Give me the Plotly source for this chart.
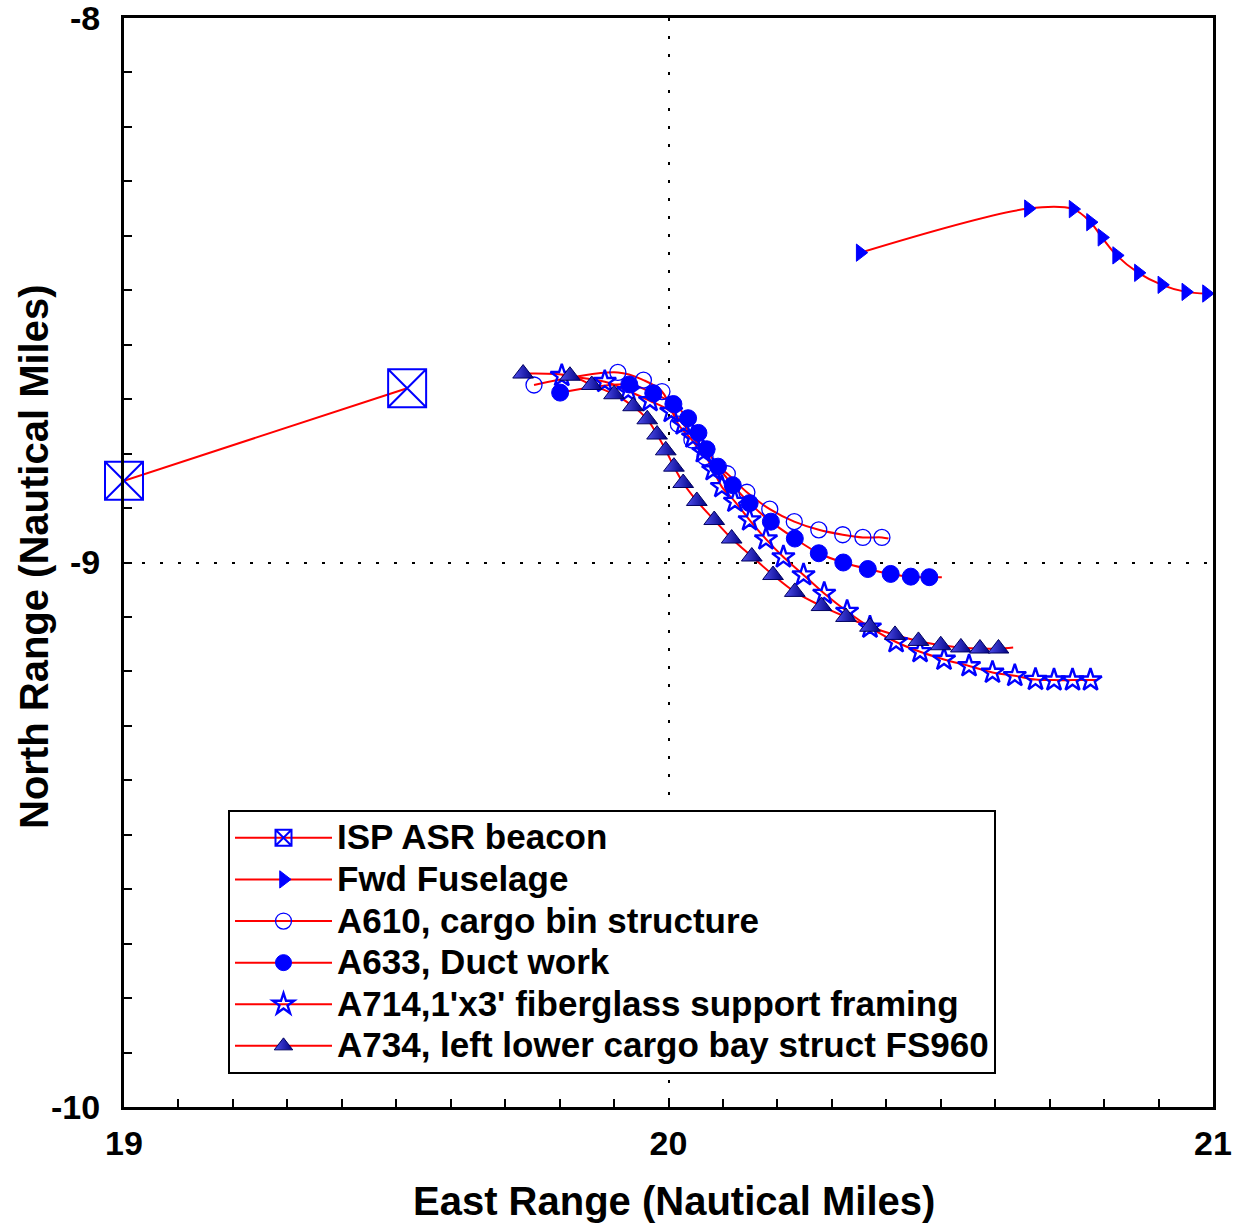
import plotly.graph_objects as go

# ---------------- data (nautical miles) ----------------
isp_x = [19.000, 19.520]
isp_y = [-8.850, -8.680]

fwd_x = [20.352, 20.661, 20.743, 20.775, 20.796, 20.823, 20.863, 20.906, 20.950, 20.988]
fwd_y = [-8.431, -8.350, -8.351, -8.375, -8.403, -8.436, -8.468, -8.490, -8.503, -8.506]

a610_x = [19.753, 19.907, 19.954, 19.988, 20.018, 20.043, 20.067, 20.108, 20.144, 20.186,
          20.231, 20.276, 20.320, 20.357, 20.392]
a610_y = [-8.674, -8.651, -8.665, -8.686, -8.746, -8.775, -8.806, -8.837, -8.871, -8.902,
          -8.925, -8.940, -8.949, -8.954, -8.954]
a610_fit_end = (20.404, -8.956)

a633_x = [19.801, 19.928, 19.972, 20.009, 20.036, 20.055, 20.070, 20.091, 20.118, 20.149,
          20.188, 20.232, 20.276, 20.321, 20.366, 20.408, 20.445, 20.479]
a633_y = [-8.688, -8.673, -8.689, -8.709, -8.735, -8.762, -8.792, -8.824, -8.858, -8.891,
          -8.925, -8.956, -8.983, -9.000, -9.012, -9.021, -9.026, -9.027]
a633_fit_end = (20.502, -9.027)

a714_x = [19.804, 19.883, 19.926, 19.966, 20.005, 20.027, 20.045, 20.064, 20.082, 20.098,
          20.122, 20.149, 20.179, 20.211, 20.248, 20.286, 20.328, 20.370, 20.418, 20.462,
          20.506, 20.552, 20.595, 20.636, 20.674, 20.708, 20.742, 20.775]
a714_y = [-8.657, -8.668, -8.685, -8.703, -8.723, -8.746, -8.770, -8.797, -8.830, -8.861,
          -8.888, -8.922, -8.957, -8.990, -9.023, -9.057, -9.090, -9.119, -9.146, -9.164,
          -9.178, -9.190, -9.202, -9.208, -9.215, -9.216, -9.216, -9.216]
a714_fit_end = (20.786, -9.216)

a734_x = [19.733, 19.819, 19.859, 19.900, 19.935, 19.961, 19.979, 19.995, 20.010, 20.027,
          20.052, 20.084, 20.116, 20.153, 20.192, 20.232, 20.281, 20.326, 20.370, 20.416,
          20.459, 20.500, 20.537, 20.572, 20.606]
a734_y = [-8.653, -8.657, -8.674, -8.691, -8.713, -8.737, -8.765, -8.794, -8.824, -8.854,
          -8.887, -8.922, -8.956, -8.989, -9.023, -9.054, -9.080, -9.100, -9.118, -9.133,
          -9.144, -9.152, -9.156, -9.158, -9.158]
a734_fit_end = (20.633, -9.156)

labels = [
    "ISP ASR beacon",
    "Fwd Fuselage",
    "A610, cargo bin structure",
    "A633, Duct work",
    "A714,1'x3' fiberglass support framing",
    "A734, left lower cargo bay struct FS960",
]
x_ticks = [19, 20, 21]
y_ticks = [-8, -9, -10]
x_title = "East Range (Nautical Miles)"
y_title = "North Range (Nautical Miles)"

# ---------------- styling ----------------
FONT = "Liberation Sans, Arial, sans-serif"
RED = "#ff0000"
BLUE = "#0000ff"

series = [
    dict(x=isp_x, y=isp_y, end=None,
         marker=dict(symbol="square-x-open", size=38, color=BLUE, line=dict(color=BLUE, width=2))),
    dict(x=fwd_x, y=fwd_y, end=None,
         marker=dict(symbol="triangle-right", size=15, color=BLUE, line=dict(color=BLUE, width=1))),
    dict(x=a610_x, y=a610_y, end=a610_fit_end,
         marker=dict(symbol="circle-open", size=16, color=BLUE, line=dict(color=BLUE, width=1.3))),
    dict(x=a633_x, y=a633_y, end=a633_fit_end,
         marker=dict(symbol="circle", size=17, color=BLUE, line=dict(color=BLUE, width=1))),
    dict(x=a714_x, y=a714_y, end=a714_fit_end,
         marker=dict(symbol="star-open", size=17, color=BLUE, line=dict(color=BLUE, width=2.4))),
    dict(x=a734_x, y=a734_y, end=a734_fit_end,
         marker=dict(symbol="triangle-up", size=18, color="#5050f0",
                     gradient=dict(type="horizontal", color="#000080"),
                     line=dict(color="#000060", width=1))),
]

fig = go.Figure()

# fitted red curves
for i, s in enumerate(series):
    lx = list(s["x"]) + ([s["end"][0]] if s["end"] else [])
    ly = list(s["y"]) + ([s["end"][1]] if s["end"] else [])
    fig.add_trace(go.Scatter(
        x=lx, y=ly, mode="lines",
        line=dict(color=RED, width=2, shape="linear" if i == 0 else "spline", smoothing=1.0),
        showlegend=False, hoverinfo="skip", cliponaxis=False))

# markers
for s in series:
    fig.add_trace(go.Scatter(x=s["x"], y=s["y"], mode="markers", marker=s["marker"],
                             showlegend=False, cliponaxis=False))

# legend entries (text drawn a bit larger than the row pitch font)
for s, name in zip(series, labels):
    fig.add_trace(go.Scatter(x=[None], y=[None], mode="lines+markers",
                             name='<span style="font-size:35px">' + name + '</span>',
                             line=dict(color=RED, width=2), marker=s["marker"]))

axis_common = dict(
    showline=True, linecolor="black", linewidth=3, mirror=True,
    showgrid=True, gridcolor="black", gridwidth=2, griddash="3px,15px",
    zeroline=False,
    ticks="inside", ticklen=8, tickwidth=1.5, tickcolor="black",
    minor=dict(ticks="inside", ticklen=8, tickwidth=1.5, tickcolor="black", showgrid=False),
    tickfont=dict(family=FONT, size=34, color="black", weight="bold"),
    ticklabeloverflow="allow",
)

fig.update_xaxes(
    range=[19, 21], tickvals=x_ticks, ticktext=[str(v) for v in x_ticks],
    minor_dtick=0.1, minor_tick0=19, ticklabelstandoff=4,
    **axis_common)
fig.update_yaxes(
    range=[-10, -8], tickvals=y_ticks, ticktext=[str(v) for v in y_ticks],
    minor_dtick=0.1, minor_tick0=-10, ticklabelstandoff=14,
    **axis_common)

title_font = dict(family=FONT, size=40, color="black", weight="bold")
fig.add_annotation(text=x_title, xref="paper", yref="paper",
                   x=(674 - 124) / 1089, y=(1107 - 1201) / 1089,
                   xanchor="center", yanchor="middle", showarrow=False, font=title_font)
fig.add_annotation(text=y_title, xref="paper", yref="paper",
                   x=(34 - 124) / 1089, y=(1107 - 557) / 1089, textangle=-90,
                   xanchor="center", yanchor="middle", showarrow=False, font=title_font)

fig.update_layout(
    width=1233, height=1226,
    margin=dict(l=124, r=20, t=18, b=119, autoexpand=False),
    paper_bgcolor="white", plot_bgcolor="white",
    font=dict(family=FONT, color="black"),
    legend=dict(
        x=(228 - 124) / 1089, y=(1107 - 810) / 1089, xanchor="left", yanchor="top",
        bgcolor="white", bordercolor="black", borderwidth=2,
        font=dict(family=FONT, size=29.7, color="black", weight="bold"),
        itemwidth=97, tracegroupgap=0,
    ),
)

fig.write_html("out.html")
